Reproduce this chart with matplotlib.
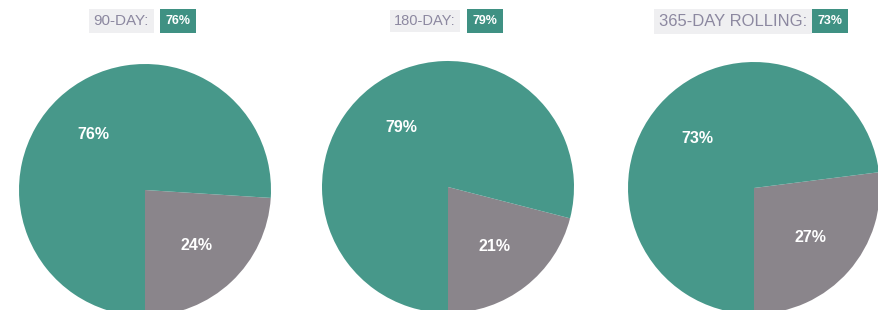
import matplotlib
matplotlib.use("Agg")
import matplotlib.pyplot as plt

titles = ["90-DAY:", "180-DAY:", "365-DAY ROLLING:"]
teal_pct = [76, 79, 73]
gray_pct = [24, 21, 27]

W, H = 879, 310
TEAL = "#47988a"
GRAY = "#8a858b"
BOX_TEAL = "#3f9183"
TITLE_GRAY = "#8c88a0"
BG_BOX = "#efeff1"

centers = [(145, 190), (448, 187), (754, 188)]
radius = 126
title_right = [149, 456, 807]
box_left = [160, 467, 812]
title_sizes = [11, 10.5, 12]

fig = plt.figure(figsize=(W / 100, H / 100), dpi=100)
ax = fig.add_axes([0, 0, 1, 1])

for i in range(3):
    cx, cy = centers[i]
    wedges, texts, autotexts = ax.pie(
        [gray_pct[i], teal_pct[i]],
        colors=[GRAY, TEAL],
        startangle=-90,
        counterclock=True,
        center=(cx, H - cy),
        radius=radius,
        autopct=lambda p: f"{p:.0f}%",
        pctdistance=0.6,
        wedgeprops=dict(linewidth=0),
        textprops=dict(color="white", fontsize=11.5, fontweight="bold",
                       family="Liberation Sans"),
    )
    ty = H - 21
    ax.text(title_right[i], ty, titles[i], ha="right", va="center",
            fontsize=title_sizes[i], color=TITLE_GRAY, family="Liberation Sans",
            bbox=dict(boxstyle="square,pad=0.3", fc=BG_BOX, ec="none"))
    ax.text(box_left[i] + 5.6, ty, f"{teal_pct[i]}%", ha="left", va="center",
            fontsize=9, color="white", fontweight="bold", family="Liberation Sans",
            bbox=dict(boxstyle="square,pad=0.45", fc=BOX_TEAL, ec="none"))

ax.set_xlim(0, W)
ax.set_ylim(0, H)
ax.set_aspect("equal")
ax.axis("off")
fig.savefig("out.png", dpi=100, facecolor="white")
